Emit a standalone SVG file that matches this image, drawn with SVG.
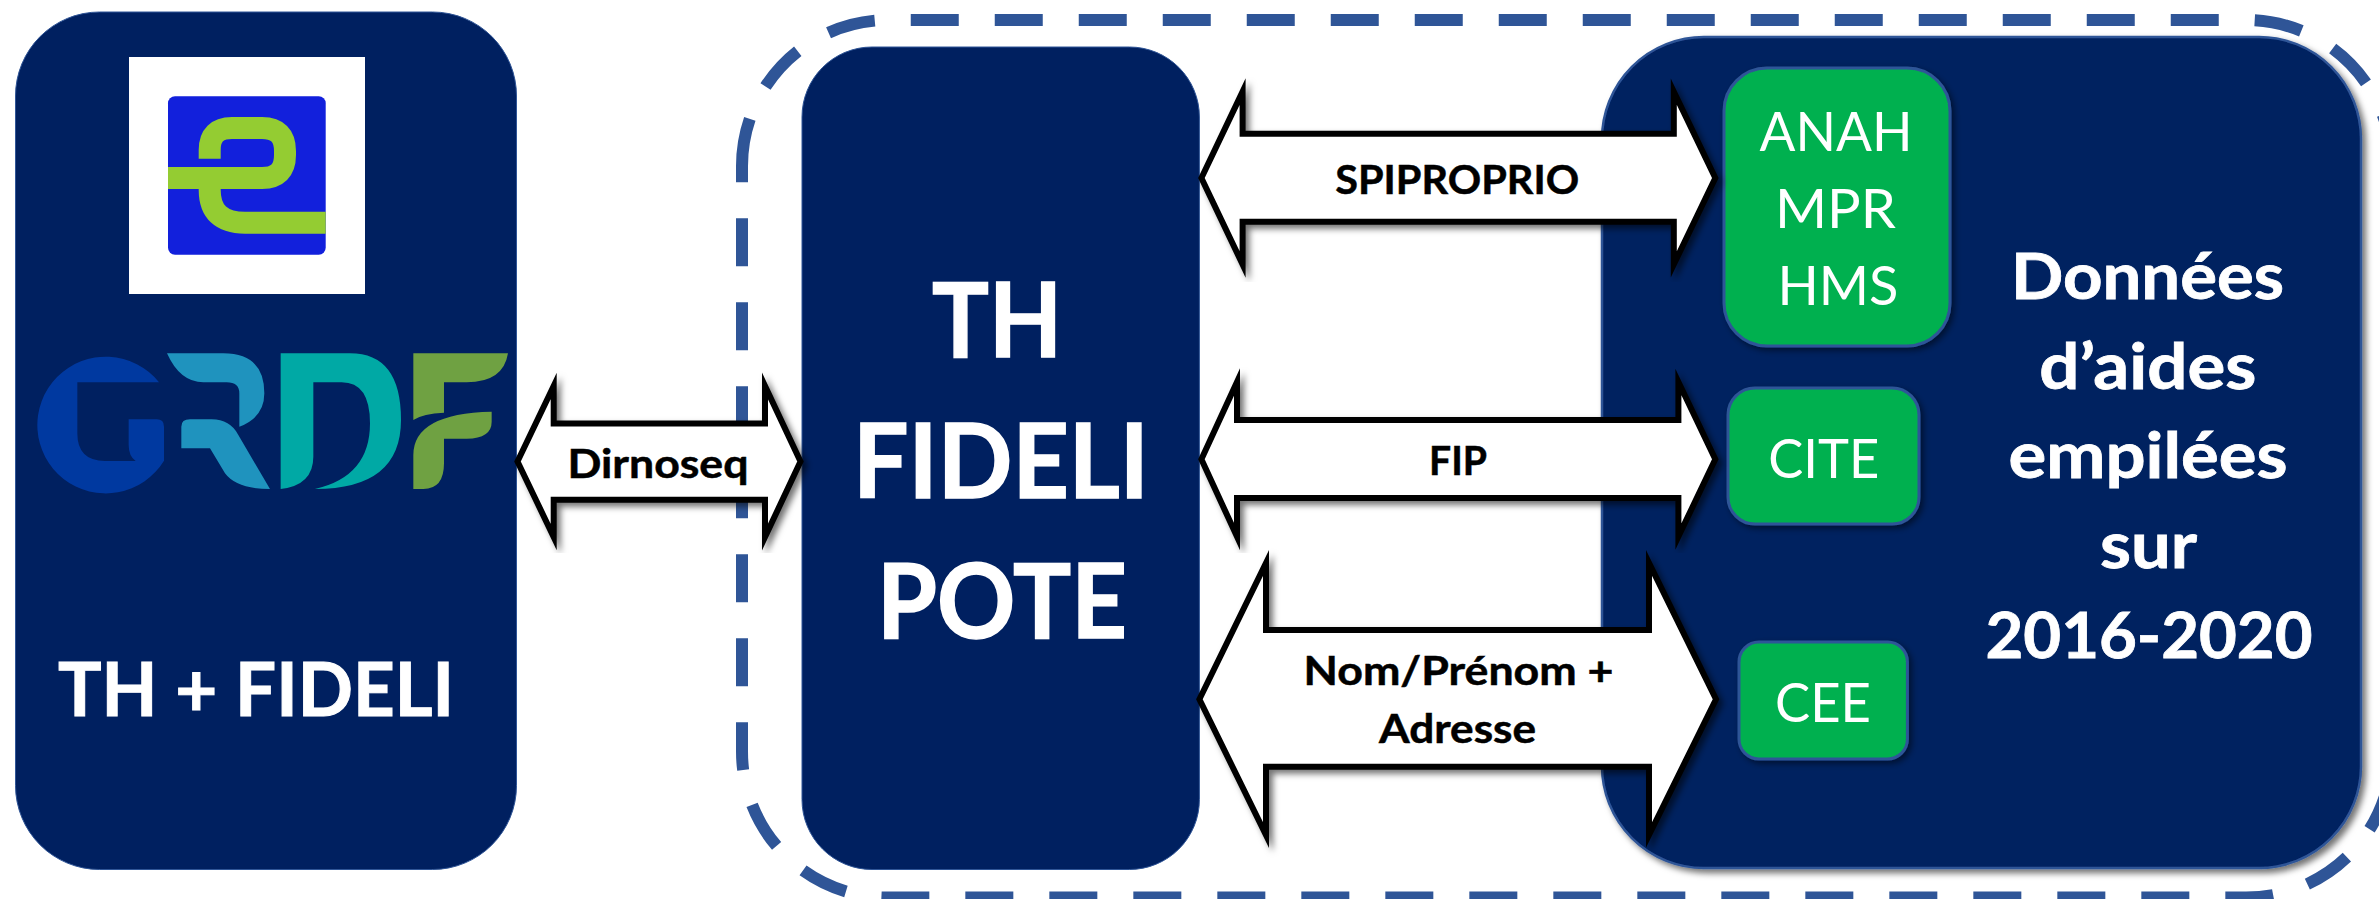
<svg xmlns="http://www.w3.org/2000/svg" width="2379" height="899" viewBox="0 0 2379 899">
<style>
text{font-family:Lato,"Liberation Sans",sans-serif;text-anchor:middle}
.panel{fill:#002060;stroke:#2F5597;stroke-width:1}
.big{fill:#fff;stroke:#fff;stroke-width:1.500;font-weight:700;font-size:103px}
.mid{fill:#fff;stroke:#fff;stroke-width:.8;font-weight:700;font-size:64px}
.box{fill:#00B050;stroke:#2F5597;stroke-width:3;filter:url(#sh2)}
.boxt{fill:#fff;font-size:55px;font-weight:400}
.arrow{fill:#fff;stroke:#000;stroke-width:6;stroke-linejoin:miter;stroke-miterlimit:20;filter:url(#sh)}
.lab{fill:#000;stroke:#000;stroke-width:.5;font-weight:700;font-size:40px}
</style>
<defs>
<filter id="sh" x="-10%" y="-10%" width="120%" height="120%"><feDropShadow dx="4" dy="4" stdDeviation="3" flood-color="#000" flood-opacity="0.55"/></filter>
<filter id="sh2" x="-10%" y="-10%" width="120%" height="120%"><feDropShadow dx="3" dy="3" stdDeviation="3" flood-color="#000" flood-opacity="0.5"/></filter>
</defs>
<rect width="2379" height="899" fill="#fff"/>
<g id="perimeter"><path d="M742 166A146 146 0 0 1 888 20H2246A146 146 0 0 1 2392 166V751.6A146 146 0 0 1 2246 897.6H888A146 146 0 0 1 742 751.6Z" fill="none" stroke="#2F5597" stroke-width="12" stroke-dasharray="48 36"/></g>
<g id="node-grdf">
<rect class="panel" x="15.5" y="12" width="501" height="857.5" rx="84" ry="84"/>
<rect x="129" y="57" width="236" height="237" fill="#fff"/>
<rect x="168" y="96.3" width="157.7" height="158.4" rx="7" fill="#1220DC"/>
<g fill="none" stroke="#94CC32" stroke-width="22">
<path d="M168 178H262Q285 178 285 155V151Q285 128 262 128H232Q209.7 128 209.7 150V158.7"/>
<path d="M209.7 178V190Q209.7 222.7 245 222.7H325.7"/>
</g>
<g transform="translate(20 330) scale(.33333)">
<path fill="#0039A0" d="M417 157A205 205 0 1 0 432 392V290Q432 268 410 268H326V345Q326 378 347 393H255Q172 393 172 310V157Z"/>
<path fill="#1F93BE" d="M441 70H610Q733 70 733 190Q733 262 658 290V190Q658 157 620 157H550Q480 157 441 70Z"/>
<path fill="#1F93BE" d="M484 355V290Q484 268 510 268H575Q630 268 655 315L750 477Q650 477 615 430L570 355Z"/>
<path fill="#00A9A5" d="M782 70H990Q1143 70 1143 270Q1143 477 885 477Q1050 440 1050 280Q1050 157 965 157H880V380Q880 465 782 477Z"/>
<path fill="#6FA142" d="M1180 70H1464Q1450 157 1340 157H1272V248Q1210 250 1180 270Z"/>
<path fill="#6FA142" d="M1180 477V375Q1180 250 1415 245V275Q1415 325 1340 326H1272V400Q1272 477 1210 477Z"/>
</g>
<text x="256" y="716" font-size="74" font-weight="700" fill="#fff" stroke="#fff" stroke-width="1" textLength="396" lengthAdjust="spacingAndGlyphs">TH + FIDELI</text>
</g>
<g id="node-pote">
<rect class="panel" x="802" y="47" width="397.400" height="822.500" rx="70" ry="70"/>
<text class="big" x="997" y="357" textLength="130" lengthAdjust="spacingAndGlyphs">TH</text>
<text class="big" x="1001" y="498" textLength="296" lengthAdjust="spacingAndGlyphs">FIDELI</text>
<text class="big" x="1002" y="638" textLength="250" lengthAdjust="spacingAndGlyphs">POTE</text>
</g>
<g id="node-aides">
<rect class="panel" style="stroke-width:2.500;filter:url(#sh)" x="1602" y="37" width="759" height="831" rx="102" ry="102"/>
<text class="mid" x="2147.500" y="299.300" textLength="273" lengthAdjust="spacingAndGlyphs">Données</text>
<text class="mid" x="2147.800" y="389.300" textLength="217" lengthAdjust="spacingAndGlyphs">d’aides</text>
<text class="mid" x="2148" y="478.300" textLength="279" lengthAdjust="spacingAndGlyphs">empilées</text>
<text class="mid" x="2148.500" y="568" textLength="97" lengthAdjust="spacingAndGlyphs">sur</text>
<text class="mid" x="2149" y="657.700" textLength="327" lengthAdjust="spacingAndGlyphs">2016-2020</text>
</g>
<g id="node-anah">
<rect class="box" x="1724" y="68" width="226" height="278" rx="43" ry="43"/>
<text class="boxt" x="1836" y="150.700" textLength="153" lengthAdjust="spacingAndGlyphs">ANAH</text>
<text class="boxt" x="1835.500" y="227.600" textLength="121" lengthAdjust="spacingAndGlyphs">MPR</text>
<text class="boxt" x="1838" y="305" textLength="121" lengthAdjust="spacingAndGlyphs">HMS</text>
</g>
<g id="node-cite">
<rect class="box" x="1728" y="388" width="191" height="136" rx="27" ry="27"/>
<text class="boxt" x="1823.800" y="478" textLength="111" lengthAdjust="spacingAndGlyphs">CITE</text>
</g>
<g id="node-cee">
<rect class="box" x="1739" y="642" width="168.400" height="117" rx="20" ry="20"/>
<text class="boxt" x="1823" y="721.700" textLength="96" lengthAdjust="spacingAndGlyphs">CEE</text>
</g>
<g id="connectors">
<path class="arrow" d="M517.500 461.500L553.700 386V423.400H765V386L800.500 461.500L765 537V499.800H553.700V537Z"/>
<text class="lab" x="658" y="478" textLength="181" lengthAdjust="spacingAndGlyphs">Dirnoseq</text>
<path class="arrow" d="M1201.400 178L1242.600 91.600V133.800H1673.800V91.600L1715.300 178L1673.800 264.400V221.700H1242.600V264.400Z"/>
<text class="lab" x="1457.200" y="194" textLength="244" lengthAdjust="spacingAndGlyphs">SPIPROPRIO</text>
<path class="arrow" d="M1201.400 459.300L1237 382V420H1678.400V382L1715.300 459.300L1678.400 536.600V498H1237V536.600Z"/>
<text class="lab" x="1458" y="475" textLength="58" lengthAdjust="spacingAndGlyphs">FIP</text>
<path class="arrow" d="M1199.400 699.300L1266 563V630H1649V563L1716 699.300L1649 835V766.700H1266V835Z"/>
<text class="lab" x="1458.500" y="685.300" textLength="310" lengthAdjust="spacingAndGlyphs">Nom/Prénom +</text>
<text class="lab" x="1457.500" y="743.300" textLength="157" lengthAdjust="spacingAndGlyphs">Adresse</text>
</g>
</svg>
